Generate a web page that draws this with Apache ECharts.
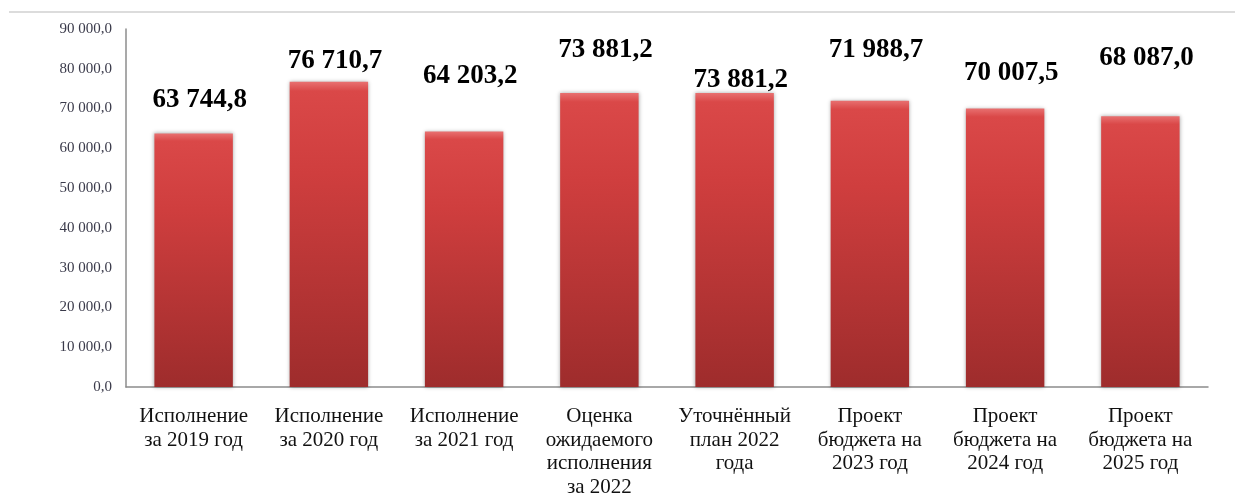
<!DOCTYPE html>
<html>
<head>
<meta charset="utf-8">
<script src="https://cdn.jsdelivr.net/npm/echarts@6/dist/echarts.min.js"></script>
<style>
html,body{margin:0;padding:0;background:#fff;}
#c{width:1235px;height:495px;}
</style>
</head>
<body>
<div id="c"></div>
<script>
var categories = [
  "Исполнение\nза 2019 год",
  "Исполнение\nза 2020 год",
  "Исполнение\nза 2021 год",
  "Оценка\nожидаемого\nисполнения\nза 2022",
  "Уточнённый\nплан 2022\nгода",
  "Проект\nбюджета на\n2023 год",
  "Проект\nбюджета на\n2024 год",
  "Проект\nбюджета на\n2025 год"
];
var values = [63744.8, 76710.7, 64203.2, 73881.2, 73881.2, 71988.7, 70007.5, 68087.0];
var yMin = 0, yMax = 90000, yStep = 10000;

// label styling: how far each value label floats above its bar (px)
var labelLift = [33, 20, 55, 43, 13, 50, 35, 58];

function fmt(v) {
  var s = v.toFixed(1).split('.');
  var i = s[0].replace(/\B(?=(\d{3})+(?!\d))/g, ' ');
  return i + ',' + s[1];
}

var chart = echarts.init(document.getElementById('c'));
var barColor = new echarts.graphic.LinearGradient(0, 0, 0, 1, [
  {offset: 0, color: '#e87070'},
  {offset: 0.03, color: '#da4848'},
  {offset: 0.3, color: '#cf3e3e'},
  {offset: 1, color: '#9e2c2c'}
]);
var data = values.map(function (v, i) {
  return {
    value: v,
    label: {distance: labelLift[i] - 13, offset: [6, 0]}
  };
});
chart.setOption({
  animation: false,
  backgroundColor: '#fff',
  graphic: [{
    type: 'line',
    shape: {x1: 9, y1: 12, x2: 1235, y2: 12},
    style: {stroke: '#dcdcdc', lineWidth: 2}
  }],
  grid: {left: 126, right: 27, top: 29, bottom: 108, containLabel: false, outerBoundsMode: 'none'},
  xAxis: {
    type: 'category',
    data: categories,
    axisLine: {lineStyle: {color: '#8c8c8c', width: 1.5}},
    axisTick: {show: false},
    axisLabel: {
      interval: 0,
      margin: 18,
      color: '#111',
      fontFamily: 'Liberation Serif',
      fontSize: 21,
      lineHeight: 23.5,
      align: 'center'
    }
  },
  yAxis: {
    type: 'value',
    min: yMin, max: yMax, interval: yStep,
    axisLine: {show: true, lineStyle: {color: '#8c8c8c', width: 1.5}},
    axisTick: {show: false},
    splitLine: {show: false},
    axisLabel: {
      margin: 14,
      color: '#3a3a4a',
      fontFamily: 'Liberation Serif',
      fontSize: 15,
      formatter: function (v) { return fmt(v); }
    }
  },
  series: [{
    type: 'bar',
    data: data,
    barWidth: '58%',
    itemStyle: {
      color: barColor,
      shadowBlur: 4,
      shadowColor: 'rgba(0,0,0,0.35)',
      shadowOffsetX: 0,
      shadowOffsetY: 0
    },
    label: {
      show: true,
      position: 'top',
      color: '#000',
      fontFamily: 'Liberation Serif',
      fontWeight: 'bold',
      fontSize: 27,
      lineHeight: 27,
      formatter: function (p) { return fmt(p.value); }
    }
  }]
});
</script>
</body>
</html>
